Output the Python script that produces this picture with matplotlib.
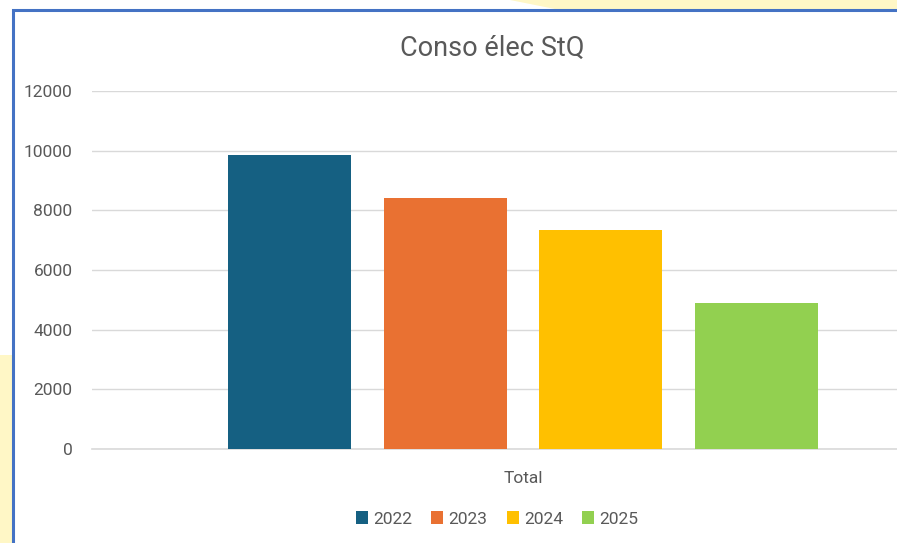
import numpy as np
import matplotlib.pyplot as plt
from matplotlib.patches import Rectangle, Polygon

plt.rcParams['font.family'] = ['Roboto', 'DejaVu Sans']

# data
category = 'Total'
years = ['2022', '2023', '2024', '2025']
values = [9870, 8400, 7330, 4900]
colors = ['#156082', '#E97132', '#FFC000', '#92D050']
yticks = [0, 2000, 4000, 6000, 8000, 10000, 12000]

W, H = 897, 543
fig = plt.figure(figsize=(W / 100, H / 100), dpi=100)
fig.patch.set_facecolor('white')

# yellowish background decoration around the chart frame
yellow = '#FFF7C6'
fig.patches.append(Polygon([(510 / W, 1), (W / W, 1), (1, 1 - 10 / H), (560 / W, 1 - 10 / H)],
                           closed=True, transform=fig.transFigure, facecolor=yellow,
                           edgecolor='none', zorder=0))
fig.patches.append(Rectangle((0, 0), 12 / W, 1 - 355 / H, transform=fig.transFigure,
                             facecolor=yellow, edgecolor='none', zorder=0))
# chart frame (blue border, extends past the right/bottom edges)
fig.patches.append(Rectangle((13 / W, -0.1), 1.2, 1 - 10 / H + 0.1, transform=fig.transFigure,
                             facecolor='white', edgecolor='#4472C4', linewidth=2.2, zorder=1))

left, right = 92, 954
top, bottom = 91, 449
ax = fig.add_axes([left / W, 1 - bottom / H, (right - left) / W, (bottom - top) / H])
ax.set_facecolor('none')
ax.set_zorder(2)

n = len(years)
step = 0.1806
width = 0.1427
offsets = (np.arange(n) - (n - 1) / 2) * step
for off, v, c, y in zip(offsets, values, colors, years):
    ax.bar(off, v, width=width, color=c, label=y, zorder=3)

ax.set_xlim(-0.5, 0.5)
ax.set_ylim(0, 12000)
ax.set_yticks(yticks)
ax.set_yticklabels([str(t) for t in yticks], fontsize=12.5, color='#595959')
ax.set_xticks([0])
ax.set_xticklabels([category], fontsize=12.5, color='#595959')
ax.tick_params(axis='y', length=0, pad=14)
ax.tick_params(axis='x', length=0, pad=16)
ax.grid(axis='y', color='#D9D9D9', linewidth=1, zorder=0)
ax.axhline(0, color='#D9D9D9', linewidth=1.2, zorder=2, clip_on=False)
for s in ax.spines.values():
    s.set_visible(False)

fig.text(492 / W, 1 - 48 / H, 'Conso élec StQ', ha='center', va='center',
         fontsize=19.5, color='#595959')

handles, labels = ax.get_legend_handles_labels()
fig.legend(handles, labels, loc='center', bbox_to_anchor=(497 / W, 1 - 519 / H), ncol=4,
           frameon=False, fontsize=12.5, labelcolor='#595959', handlelength=0.7,
           handleheight=0.7, handletextpad=0.3, columnspacing=1.1)

fig.savefig('out.png', dpi=100)
